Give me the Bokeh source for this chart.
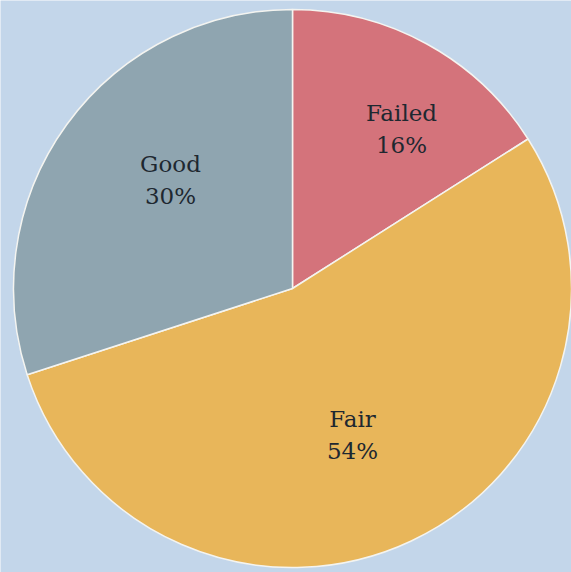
import numpy as np
from bokeh.plotting import figure
from bokeh.models import Range1d, ColumnDataSource
from bokeh.core.properties import value
from bokeh.embed import file_html
from bokeh.resources import INLINE

categories = ["Failed", "Fair", "Good"]
percents = [16, 54, 30]
colors = ["#d4737b", "#e8b65a", "#8fa5b0"]

W, H = 571, 572
cx, cy, R = 292, 284, 279
# label anchor offsets from the pie centre (layout only)
label_dx = [109, 60, -122]
label_dy = [160, -146, 109]

vals = np.array(percents, dtype=float)
fr = vals / vals.sum()
ends = np.pi / 2 - 2 * np.pi * np.cumsum(fr)
starts = np.concatenate([[np.pi / 2], ends[:-1]])

src = ColumnDataSource(dict(
    cat=categories,
    start=ends, end=starts,
    color=colors,
    x=[cx] * 3, y=[cy] * 3,
))

p = figure(width=W, height=H, output_backend="svg", toolbar_location=None,
           x_range=Range1d(0, W), y_range=Range1d(0, H), min_border=0)
p.axis.visible = False
p.grid.visible = False
p.outline_line_color = None
p.background_fill_color = "#c3d6ea"
p.border_fill_color = "#c3d6ea"

p.wedge(x="x", y="y", radius=R, start_angle="start", end_angle="end",
        fill_color="color", line_color="#f4f4f0", line_width=1.5, source=src)

lx = [cx + d for d in label_dx]
ly = [cy + d for d in label_dy]
p.text(x=lx, y=[v + 16 for v in ly], text=categories, text_align="center",
       text_baseline="middle", text_font=value("DejaVu Serif"),
       text_font_size="23px", text_color="#1e2830")
p.text(x=lx, y=[v - 16 for v in ly], text=[f"{v}%" for v in percents],
       text_align="center", text_baseline="middle",
       text_font=value("DejaVu Serif"), text_font_size="23px",
       text_color="#1e2830")

open("out.html", "w").write(file_html(p, INLINE))
